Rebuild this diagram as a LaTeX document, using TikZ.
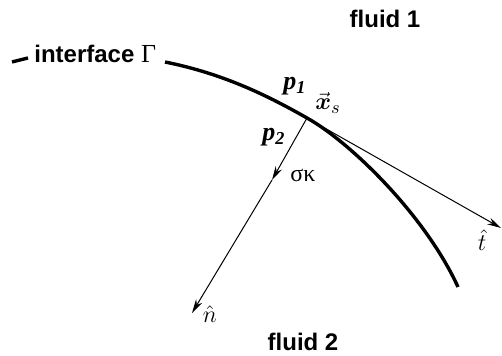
\documentclass[tikz,border=0pt]{standalone}
\usepackage{fontspec}
\setmainfont{Liberation Serif}
\setsansfont{Liberation Sans}
\usepackage{amsmath}
\usepackage{tikz}
\usetikzlibrary{arrows.meta, positioning}

\begin{document}
\begin{tikzpicture}[x=0.5pt, y=-0.5pt,
    interface/.style={line width=1.7pt},
    vecline/.style={line width=0.5pt, -{Stealth[length=7pt, width=3.6pt]}},
    fluid/.style={font=\fontsize{12}{14}\sffamily\bfseries},
    lbl/.style={font=\fontsize{13}{15}\selectfont, inner sep=0pt}]
    \useasboundingbox (0,0) rectangle (502,356);

    % Điểm trên mặt phân cách
    \coordinate (xs) at (307,118);
    \coordinate (nmid) at (272,180);
    \coordinate (nend) at (192,313);
    \coordinate (tend) at (501,228);

    % Mặt phân cách Gamma
    \draw[interface] (12,62) -- (28,58);
    \draw[interface] (165,62) .. controls (225,74) and (270,97) .. (xs)
        .. controls (350,142) and (425,215) .. (458,287);

    % Vector pháp tuyến và tiếp tuyến
    \draw[vecline] (xs) -- (nmid);
    \draw[vecline] (nmid) -- (nend);
    \draw[vecline] (xs) -- (tend);

    % Nhãn
    \node[fluid] (f1) at (385,19) {fluid 1};
    \node[fluid] (f2) at (303,342) {fluid 2};
    \node[fluid, anchor=base west, inner sep=0pt] (gam) at (34,63)
        {interface {\fontsize{13}{15}\rmfamily\mdseries Γ}};
    \node[lbl] (p1) at (295,86) {\bfseries\itshape p\textsubscript{1}};
    \node[lbl] (p2) at (274,137) {\bfseries\itshape p\textsubscript{2}};
    \node[lbl] (xsl) at (328,103) {$\vec{\boldsymbol{x}}_s$};
    \node[lbl, font=\fontsize{12}{14}\selectfont] (sk) at (303,175) {σκ};
    \node[lbl] (th) at (482,240) {$\hat{t}$};
    \node[lbl] (nh) at (210,314) {$\hat{n}$};
\end{tikzpicture}
\end{document}
